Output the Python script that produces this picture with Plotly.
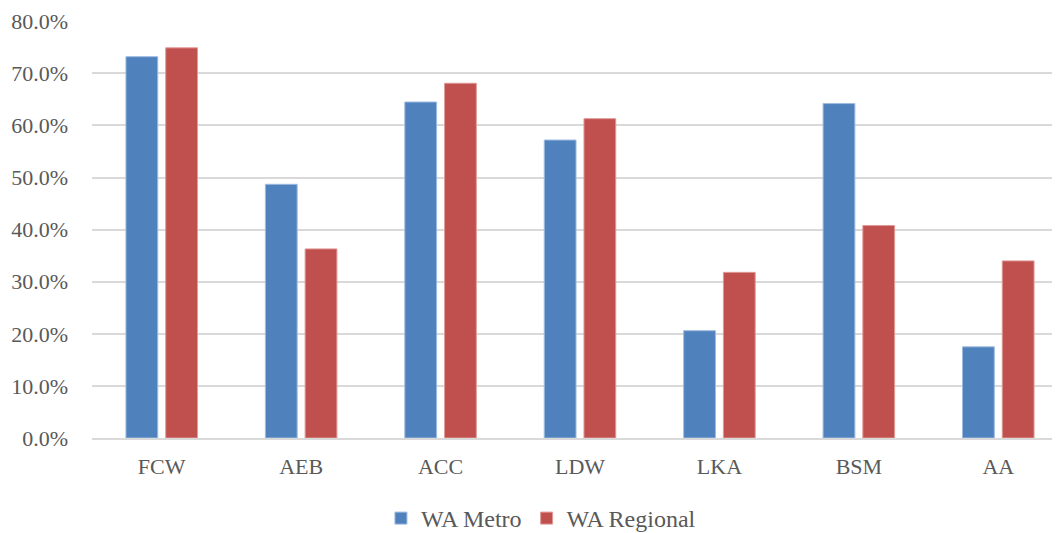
import plotly.graph_objs as go

categories = ["FCW", "AEB", "ACC", "LDW", "LKA", "BSM", "AA"]
wa_metro = [73.2, 48.7, 64.5, 57.2, 20.6, 64.2, 17.5]
wa_regional = [74.9, 36.3, 68.1, 61.3, 31.8, 40.8, 34.0]
y_ticks = [0, 10, 20, 30, 40, 50, 60, 70, 80]
y_tick_labels = ["%.1f%%" % v for v in y_ticks]

font = dict(family="Liberation Serif", size=22, color="#595959")

fig = go.Figure()
fig.add_trace(go.Bar(x=categories, y=wa_metro, name="WA Metro",
                     marker=dict(color="#4f81bd", line=dict(color="#9dbbe0", width=1))))
fig.add_trace(go.Bar(x=categories, y=wa_regional, name="WA Regional",
                     marker=dict(color="#c0504d", line=dict(color="#e09a98", width=1))))

fig.update_layout(
    width=1060, height=533,
    margin=dict(l=84, r=0, t=13, b=94),
    paper_bgcolor="white", plot_bgcolor="white",
    font=font,
    barmode="group", bargap=0.43, bargroupgap=0.2,
    legend=dict(orientation="h", x=0.46, xanchor="center", y=-0.14, yanchor="top",
                font=dict(family="Liberation Serif", size=24, color="#595959"),
                itemwidth=30, traceorder="normal"),
    xaxis=dict(showgrid=False, showline=True, linecolor="#d9d9d9", linewidth=1.5,
               ticks="", tickfont=font, automargin=False, ticklabelstandoff=8),
    yaxis=dict(range=[0, 80.05], tickvals=y_ticks, ticktext=y_tick_labels,
               showgrid=True, gridcolor="#d9d9d9", gridwidth=1.5, zeroline=False,
               showline=False, ticks="", tickfont=font, ticklabelstandoff=23,
               automargin=False),
)

fig.write_html("out.html")
